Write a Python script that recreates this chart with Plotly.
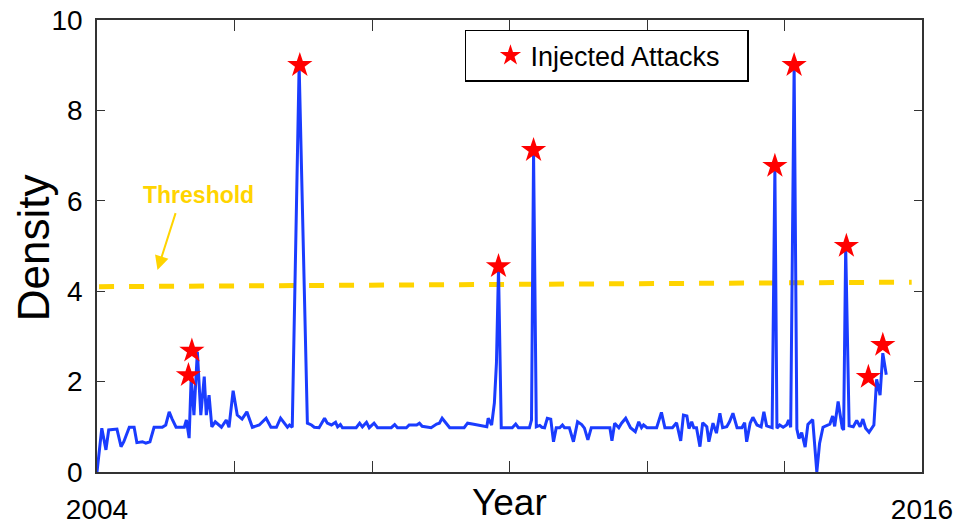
import plotly.graph_objects as go

# ---- data ----
years = [2004.00, 2004.07, 2004.13, 2004.17, 2004.23, 2004.29, 2004.35, 2004.39, 2004.47, 2004.54,
         2004.58, 2004.66, 2004.71, 2004.77, 2004.83, 2004.95, 2005.00, 2005.05, 2005.09, 2005.15,
         2005.27, 2005.30, 2005.34, 2005.37, 2005.41, 2005.46, 2005.51, 2005.56, 2005.59, 2005.63,
         2005.67, 2005.72, 2005.81, 2005.88, 2005.92, 2005.98, 2006.04, 2006.11, 2006.18, 2006.26,
         2006.36, 2006.46, 2006.53, 2006.61, 2006.67, 2006.72, 2006.77, 2006.80, 2006.84, 2006.94,
         2007.06, 2007.12, 2007.16, 2007.23, 2007.31, 2007.35, 2007.41, 2007.47, 2007.50, 2007.54,
         2007.57, 2007.77, 2007.82, 2007.86, 2007.92, 2007.96, 2008.03, 2008.08, 2008.28, 2008.33,
         2008.37, 2008.50, 2008.54, 2008.65, 2008.69, 2008.73, 2008.86, 2008.94, 2008.98, 2009.02,
         2009.08, 2009.13, 2009.34, 2009.39, 2009.46, 2009.52, 2009.61, 2009.67, 2009.69, 2009.74,
         2009.78, 2009.81, 2009.84, 2009.88, 2010.04, 2010.09, 2010.13, 2010.29, 2010.32, 2010.35,
         2010.39, 2010.44, 2010.47, 2010.51, 2010.55, 2010.60, 2010.64, 2010.68, 2010.73, 2010.77,
         2010.80, 2010.87, 2010.93, 2010.99, 2011.05, 2011.09, 2011.14, 2011.19, 2011.46, 2011.49,
         2011.53, 2011.59, 2011.63, 2011.69, 2011.76, 2011.83, 2011.88, 2011.92, 2011.95, 2012.00,
         2012.14, 2012.21, 2012.26, 2012.37, 2012.43, 2012.49, 2012.53, 2012.58, 2012.61, 2012.65,
         2012.68, 2012.72, 2012.77, 2012.81, 2012.87, 2012.90, 2012.96, 2013.01, 2013.06, 2013.10,
         2013.16, 2013.20, 2013.25, 2013.31, 2013.38, 2013.42, 2013.45, 2013.50, 2013.54, 2013.60,
         2013.66, 2013.70, 2013.74, 2013.82, 2013.86, 2013.89, 2013.93, 2013.98, 2014.03, 2014.06,
         2014.09, 2014.14, 2014.18, 2014.21, 2014.25, 2014.30, 2014.34, 2014.38, 2014.41, 2014.47,
         2014.51, 2014.56, 2014.62, 2014.66, 2014.70, 2014.73, 2014.78, 2014.84, 2014.86, 2014.89,
         2014.94, 2015.00, 2015.05, 2015.10, 2015.14, 2015.18, 2015.23, 2015.30, 2015.34, 2015.39,
         2015.43, 2015.48]
density = [0.00, 0.97, 0.49, 0.93, 0.94, 0.95, 0.56, 0.67, 0.99, 0.99,
           0.65, 0.67, 0.64, 0.67, 0.99, 0.99, 1.04, 1.33, 1.18, 0.99,
           0.99, 1.15, 0.75, 2.10, 1.26, 2.66, 1.26, 2.11, 1.26, 1.70,
           1.00, 1.11, 0.99, 1.15, 0.99, 1.80, 1.26, 1.17, 1.33, 0.99,
           1.04, 1.19, 0.99, 0.99, 1.19, 1.08, 0.99, 1.04, 0.99, 9.00,
           1.08, 1.04, 0.99, 0.98, 1.19, 1.08, 1.04, 1.10, 1.00, 1.05,
           0.98, 0.98, 1.08, 1.00, 1.10, 0.98, 1.08, 0.98, 0.98, 1.05,
           0.98, 0.98, 1.04, 1.04, 1.08, 1.01, 0.98, 1.06, 1.08, 1.19,
           1.06, 0.98, 0.98, 1.08, 1.06, 1.04, 1.01, 1.00, 1.19, 1.04,
           1.53, 2.41, 4.50, 0.98, 0.98, 1.06, 0.98, 0.98, 1.15, 7.05,
           1.00, 1.03, 0.99, 0.98, 1.19, 1.17, 0.67, 0.98, 0.98, 1.04,
           0.98, 0.98, 0.67, 1.11, 1.05, 0.97, 0.71, 0.98, 0.98, 0.69,
           1.08, 0.98, 1.08, 1.19, 0.98, 0.89, 1.11, 0.98, 1.04, 0.98,
           0.98, 1.32, 0.98, 0.98, 1.09, 0.69, 1.26, 1.24, 0.96, 1.11,
           0.98, 0.98, 0.56, 1.09, 1.00, 0.67, 1.08, 0.86, 1.30, 0.98,
           1.00, 1.11, 1.30, 0.98, 0.98, 1.09, 0.67, 1.08, 1.21, 1.04,
           1.00, 1.33, 1.02, 0.98, 6.72, 0.97, 1.04, 0.99, 1.04, 1.15,
           0.99, 9.00, 0.95, 0.74, 0.87, 0.55, 1.05, 1.11, 1.16, 0.00,
           0.63, 0.99, 1.04, 1.06, 1.24, 1.01, 1.56, 0.97, 0.93, 4.98,
           1.02, 1.00, 1.14, 1.00, 1.17, 0.97, 0.88, 1.04, 2.05, 1.70,
           2.63, 2.15]

attack_years = [2005.33, 2005.38, 2006.95, 2009.84, 2010.35, 2013.86, 2014.14, 2014.90, 2015.22, 2015.43]
attack_density = [2.14, 2.68, 9.00, 4.55, 7.12, 6.77, 9.00, 5.00, 2.10, 2.81]

threshold_years = [2004.03, 2015.85]
threshold_values = [4.10, 4.20]

x_tick_vals = [2004, 2006, 2008, 2010, 2012, 2014, 2016]
x_tick_text = ["2004", "", "", "", "", "", "2016"]
y_tick_vals = [0, 2, 4, 6, 8, 10]

FONT = "Liberation Sans, Arial, sans-serif"
GOLD = "#FFD400"

fig = go.Figure()
fig.add_trace(go.Scatter(x=threshold_years, y=threshold_values, mode="lines",
                         line=dict(color=GOLD, width=5, dash="15px,15px"),
                         showlegend=False, hoverinfo="skip"))
fig.add_trace(go.Scatter(x=years, y=density, mode="lines",
                         line=dict(color="#1a3cff", width=3),
                         showlegend=False))
fig.add_trace(go.Scatter(x=attack_years, y=attack_density, mode="markers",
                         marker=dict(symbol="star", size=19, color="#ff0000",
                                     line=dict(width=0)),
                         name="Injected Attacks"))

fig.add_annotation(x=2005.47, y=6.13, xref="x", yref="y", text="<b>Threshold</b>",
                   showarrow=False, font=dict(family=FONT, size=23, color=GOLD))
fig.add_annotation(x=2004.88, y=4.47, xref="x", yref="y", ax=2005.15, ay=5.76,
                   axref="x", ayref="y", text="", showarrow=True,
                   arrowhead=2, arrowsize=1.4, arrowwidth=2, arrowcolor=GOLD)
fig.add_annotation(x=0.5, y=-0.067, xref="paper", yref="paper", text="Year",
                   showarrow=False, yanchor="middle",
                   font=dict(family=FONT, size=37, color="black"))
fig.add_annotation(x=-0.077, y=0.496, xref="paper", yref="paper", text="Density",
                   showarrow=False, textangle=-90, xanchor="center", yanchor="middle",
                   font=dict(family=FONT, size=44, color="black"))

axis_common = dict(showline=True, linecolor="#333333", linewidth=1.5, mirror="ticks",
                   ticks="inside", tickcolor="#333333", tickwidth=1.2,
                   showgrid=False, zeroline=False, automargin=False,
                   ticklabeloverflow="allow",
                   tickfont=dict(family=FONT, size=28, color="black"))
fig.update_xaxes(range=[2004, 2016], tickmode="array", tickvals=x_tick_vals,
                 ticktext=x_tick_text, ticklen=11, ticklabelstandoff=12, **axis_common)
fig.update_yaxes(range=[0, 10], tickmode="array", tickvals=y_tick_vals,
                 ticklen=8, ticklabelstandoff=7, **axis_common)

fig.update_layout(
    width=959, height=525,
    margin=dict(l=97, r=37, t=20, b=53),
    plot_bgcolor="white", paper_bgcolor="white",
    legend=dict(x=0.446, y=0.978, xanchor="left", yanchor="top",
                orientation="h", entrywidth=212,
                bgcolor="white", bordercolor="black", borderwidth=1.5,
                font=dict(family=FONT, size=27, color="black"),
                indentation=24),
)

# remove the browser's default body margin so the figure fills the window exactly
fig.write_html("out.html", config={"displayModeBar": False},
               post_script="document.body.style.margin='0';")
